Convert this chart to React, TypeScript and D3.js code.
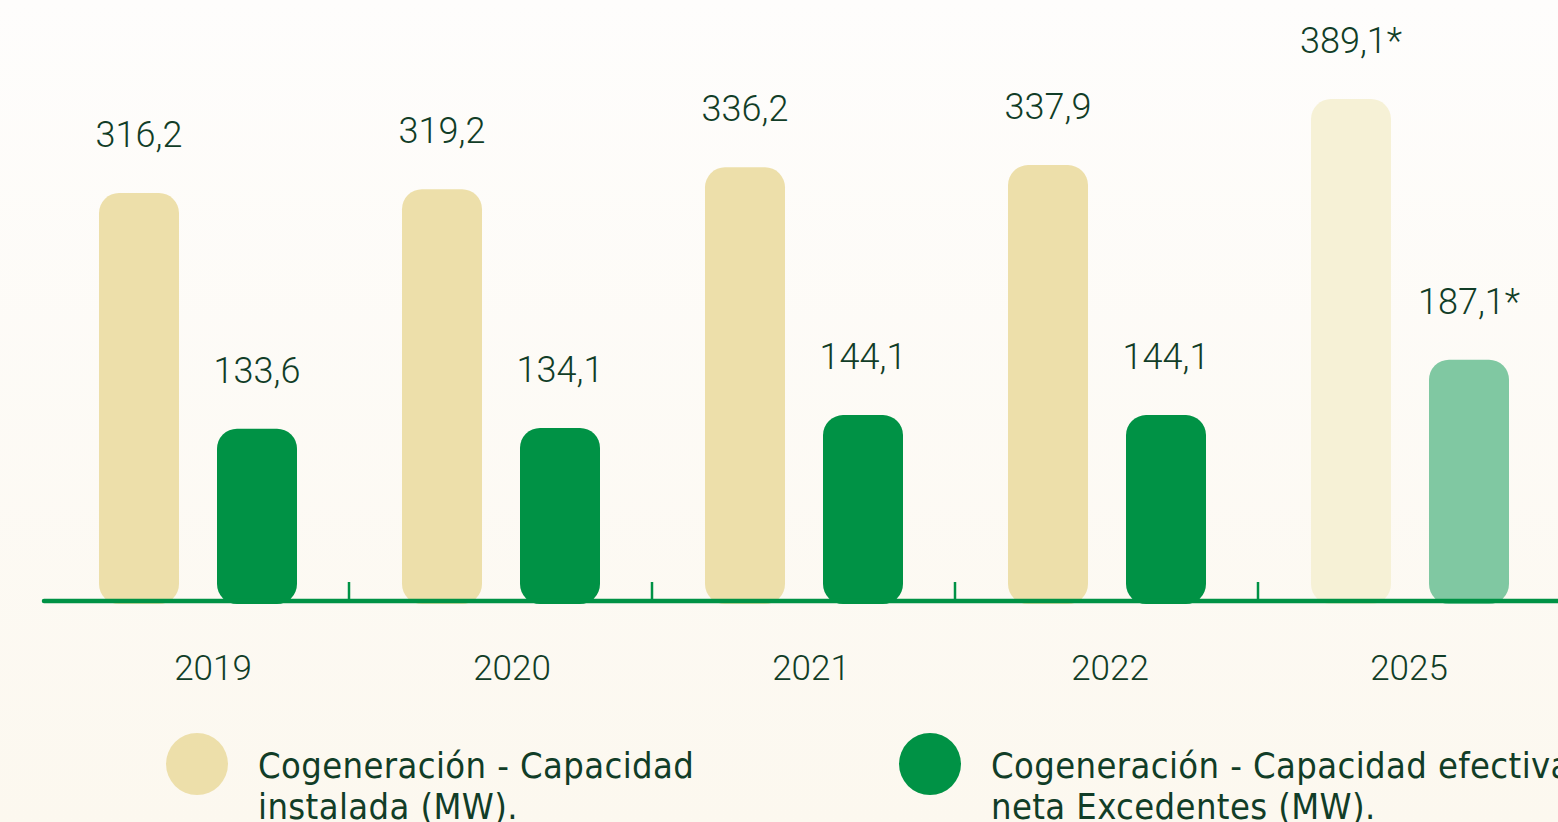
import React, { useEffect, useRef } from "react"
import * as d3 from "d3"

// values (MW)
const years = ["2019", "2020", "2021", "2022", "2025"]
const installed = [316.2, 319.2, 336.2, 337.9, 389.1]
const netSurplus = [133.6, 134.1, 144.1, 144.1, 187.1]
const installedLabels = ["316,2", "319,2", "336,2", "337,9", "389,1*"]
const netLabels = ["133,6", "134,1", "144,1", "144,1", "187,1*"]
const legendLines = [
  ["Cogeneración - Capacidad", "instalada (MW)."],
  ["Cogeneración - Capacidad efectiva", "neta Excedentes (MW)."],
]

const W = 1558
const H = 822
const BEIGE = "#EDDFAA"
const BEIGE_LIGHT = "#F6F1D6"
const GREEN = "#009245"
const GREEN_LIGHT = "#80C8A2"
const TEXT = "#113D27"

function Chart() {
  const ref = useRef(null)

  useEffect(() => {
    const svg = d3.select(ref.current)
    svg.selectAll("*").remove()

    const defs = svg.append("defs")
    const grad = defs.append("linearGradient").attr("id", "bg").attr("x1", 0).attr("y1", 0).attr("x2", 0).attr("y2", 1)
    grad.append("stop").attr("offset", "0%").attr("stop-color", "#FEFDFC")
    grad.append("stop").attr("offset", "100%").attr("stop-color", "#FCF8EF")
    svg.append("rect").attr("width", W).attr("height", H).attr("fill", "url(#bg)")

    const y0 = 601
    // group bands, last one runs past the right edge like in the original
    const x = d3.scaleBand().domain(years).range([46, 46 + 303 * years.length])
    const inner = d3.scaleBand().domain(["a", "b"]).range([53, 251]).paddingInner(38 / 118)
    const y = d3.scaleLinear().domain([0, 400]).range([y0, y0 - 516])
    // year labels sit on a slightly tighter spacing
    const xLab = d3.scalePoint().domain(years).range([213, 213 + 299 * 4])

    const g = svg.append("g")
    const last = years.length - 1

    const series = [
      { key: "a", vals: installed, labels: installedLabels, color: (i) => (i === last ? BEIGE_LIGHT : BEIGE) },
      { key: "b", vals: netSurplus, labels: netLabels, color: (i) => (i === last ? GREEN_LIGHT : GREEN) },
    ]

    series.forEach((s) => {
      g.selectAll(".bar-" + s.key)
        .data(s.vals)
        .join("rect")
        .attr("class", "bar-" + s.key)
        .attr("x", (d, i) => x(years[i]) + inner(s.key))
        .attr("y", (d) => y(d))
        .attr("width", inner.bandwidth())
        .attr("height", (d) => y0 + 3 - y(d))
        .attr("rx", 20)
        .attr("fill", (d, i) => s.color(i))

      g.selectAll(".lab-" + s.key)
        .data(s.vals)
        .join("text")
        .attr("class", "lab-" + s.key)
        .attr("x", (d, i) => x(years[i]) + inner(s.key) + inner.bandwidth() / 2)
        .attr("y", (d) => y(d) - 46)
        .attr("text-anchor", "middle")
        .attr("font-family", "Roboto")
        .attr("font-weight", 300)
        .attr("font-size", 36)
        .attr("fill", TEXT)
        .text((d, i) => s.labels[i])
    })

    // axis line + ticks between groups
    g.append("line")
      .attr("x1", 44).attr("x2", W + 10)
      .attr("y1", y0).attr("y2", y0)
      .attr("stroke", GREEN).attr("stroke-width", 4.5).attr("stroke-linecap", "round")

    g.selectAll(".tick")
      .data(years.slice(1))
      .join("line")
      .attr("class", "tick")
      .attr("x1", (d) => x(d)).attr("x2", (d) => x(d))
      .attr("y1", y0 - 19).attr("y2", y0)
      .attr("stroke", GREEN).attr("stroke-width", 2.5)

    g.selectAll(".year")
      .data(years)
      .join("text")
      .attr("class", "year")
      .attr("x", (d) => xLab(d))
      .attr("y", 680)
      .attr("text-anchor", "middle")
      .attr("font-family", "Roboto")
      .attr("font-weight", 300)
      .attr("font-size", 35)
      .attr("fill", TEXT)
      .text((d) => d)

    // legend
    const legendX = [197, 930]
    const legendColors = [BEIGE, GREEN]
    const lg = svg.append("g")
    legendLines.forEach((lines, i) => {
      lg.append("circle").attr("cx", legendX[i]).attr("cy", 764).attr("r", 31).attr("fill", legendColors[i])
      const t = lg.append("text")
        .attr("x", legendX[i] + 61)
        .attr("y", 778)
        .attr("font-family", "DejaVu Sans Condensed, DejaVu Sans")
        .attr("font-stretch", "condensed")
        .attr("font-size", 36)
        .attr("letter-spacing", 0.4)
        .attr("fill", TEXT)
      lines.forEach((l, j) => {
        t.append("tspan").attr("x", legendX[i] + 61).attr("dy", j === 0 ? 0 : 41).text(l)
      })
    })
  }, [])

  return <svg ref={ref} width={W} height={H} style={{ position: "absolute", left: 0, top: 0 }} />
}

export default function App() {
  return <Chart />
}
